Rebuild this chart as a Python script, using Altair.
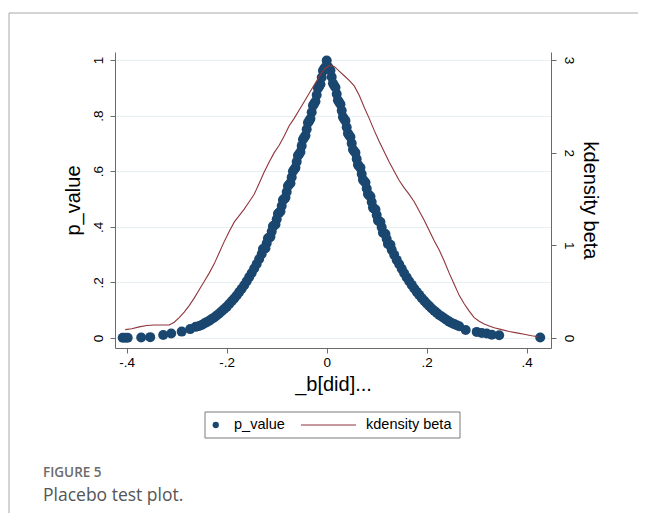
import altair as alt
import pandas as pd

# ---- data ----
beta = [
    -0.408, -0.403, -0.398, -0.371, -0.353, -0.327, -0.311, -0.290, -0.273, -0.262,
    -0.255, -0.250, -0.245, -0.240, -0.235, -0.230, -0.225, -0.220, -0.215, -0.210,
    -0.205, -0.200, -0.195, -0.190, -0.185, -0.180, -0.175, -0.170, -0.165, -0.160,
    -0.155, -0.150, -0.145, -0.140, -0.135, -0.130, -0.125, -0.120, -0.115, -0.110,
    -0.105, -0.100, -0.095, -0.090, -0.085, -0.080, -0.075, -0.070, -0.065, -0.060,
    -0.055, -0.050, -0.045, -0.040, -0.035, -0.030, -0.025, -0.020, -0.015, -0.010,
    -0.005, 0.000,
    0.005, 0.010, 0.015, 0.020, 0.025, 0.030, 0.035, 0.040, 0.045, 0.050,
    0.055, 0.060, 0.065, 0.070, 0.075, 0.080, 0.085, 0.090, 0.095, 0.100,
    0.105, 0.110, 0.115, 0.120, 0.125, 0.130, 0.135, 0.140, 0.145, 0.150,
    0.155, 0.160, 0.165, 0.170, 0.175, 0.180, 0.185, 0.190, 0.195, 0.200,
    0.205, 0.210, 0.215, 0.220, 0.225, 0.230, 0.235, 0.240, 0.245, 0.250,
    0.255, 0.260, 0.265, 0.278, 0.300, 0.310, 0.320, 0.330, 0.345, 0.427,
    # denser part of the band near the peak
    -0.0025, -0.0075, -0.0125, -0.0175, -0.0225, -0.0275, -0.0325, -0.0375, -0.0425,
    -0.0475, -0.0525, -0.0575, -0.0625, -0.0675, -0.0725, -0.0775, -0.0825, -0.0875,
    -0.0925, -0.0975, -0.1025, -0.1075, -0.1125, -0.1175, -0.1225, -0.1275,
    0.0025, 0.0075, 0.0125, 0.0175, 0.0225, 0.0275, 0.0325, 0.0375, 0.0425,
    0.0475, 0.0525, 0.0575, 0.0625, 0.0675, 0.0725, 0.0775, 0.0825, 0.0875,
    0.0925, 0.0975, 0.1025, 0.1075, 0.1125, 0.1175, 0.1225, 0.1275,
]
p_value = [
    0.001, 0.001, 0.001, 0.002, 0.003, 0.011, 0.016, 0.023, 0.032, 0.040,
    0.043, 0.047, 0.052, 0.057, 0.062, 0.068, 0.074, 0.081, 0.088, 0.096,
    0.104, 0.112, 0.122, 0.132, 0.142, 0.153, 0.165, 0.177, 0.190, 0.204,
    0.219, 0.234, 0.250, 0.266, 0.284, 0.302, 0.321, 0.341, 0.361, 0.383,
    0.405, 0.427, 0.451, 0.475, 0.500, 0.525, 0.552, 0.578, 0.606, 0.634,
    0.662, 0.691, 0.721, 0.751, 0.781, 0.812, 0.843, 0.874, 0.905, 0.937,
    0.968, 0.998,
    0.969, 0.939, 0.908, 0.878, 0.848, 0.818, 0.788, 0.758, 0.729, 0.700,
    0.672, 0.644, 0.617, 0.590, 0.564, 0.538, 0.513, 0.489, 0.465, 0.442,
    0.419, 0.398, 0.376, 0.356, 0.336, 0.317, 0.299, 0.281, 0.265, 0.249,
    0.233, 0.218, 0.204, 0.191, 0.178, 0.166, 0.155, 0.144, 0.134, 0.124,
    0.115, 0.106, 0.098, 0.091, 0.083, 0.077, 0.071, 0.065, 0.059, 0.054,
    0.050, 0.046, 0.042, 0.029, 0.022, 0.018, 0.016, 0.012, 0.010, 0.002,
    0.975, 0.961, 0.913, 0.898, 0.851, 0.836, 0.789, 0.774, 0.728,
    0.714, 0.669, 0.656, 0.612, 0.600, 0.557, 0.547, 0.505, 0.496,
    0.455, 0.447, 0.408, 0.402, 0.364, 0.359, 0.323, 0.320,
    0.976, 0.962, 0.916, 0.901, 0.855, 0.841, 0.795, 0.781, 0.736,
    0.723, 0.678, 0.666, 0.623, 0.612, 0.569, 0.559, 0.518, 0.509,
    0.469, 0.462, 0.423, 0.417, 0.379, 0.374, 0.338, 0.335,
]

kd_beta = [
    -0.403, -0.390, -0.375, -0.360, -0.345, -0.330, -0.315, -0.305, -0.295, -0.285,
    -0.275, -0.265, -0.255, -0.245, -0.235, -0.225, -0.215, -0.205, -0.195, -0.185,
    -0.175, -0.165, -0.155, -0.145, -0.135, -0.125, -0.115, -0.105, -0.095, -0.085,
    -0.075, -0.065, -0.055, -0.045, -0.035, -0.025, -0.015, -0.005, 0.005, 0.015,
    0.025, 0.035, 0.045, 0.055, 0.065, 0.075, 0.085, 0.095, 0.105, 0.115,
    0.125, 0.135, 0.145, 0.155, 0.165, 0.175, 0.185, 0.195, 0.205, 0.215,
    0.225, 0.235, 0.245, 0.255, 0.265, 0.275, 0.285, 0.295, 0.305, 0.315,
    0.325, 0.335, 0.350, 0.365, 0.380, 0.395, 0.410, 0.423,
]
kd_density = [
    0.09, 0.10, 0.12, 0.135, 0.14, 0.14, 0.14, 0.17, 0.22, 0.28,
    0.35, 0.43, 0.52, 0.61, 0.70, 0.80, 0.92, 1.04, 1.15, 1.25,
    1.32, 1.39, 1.47, 1.55, 1.67, 1.79, 1.90, 2.00, 2.08, 2.18,
    2.29, 2.37, 2.46, 2.55, 2.64, 2.73, 2.82, 2.90, 2.94, 2.93,
    2.88, 2.83, 2.78, 2.72, 2.62, 2.49, 2.37, 2.24, 2.12, 2.01,
    1.90, 1.80, 1.70, 1.62, 1.55, 1.47, 1.37, 1.27, 1.16, 1.05,
    0.95, 0.83, 0.70, 0.58, 0.46, 0.37, 0.29, 0.22, 0.18, 0.15,
    0.13, 0.11, 0.09, 0.07, 0.055, 0.04, 0.025, 0.014,
]

x_ticks = [-0.4, -0.2, 0, 0.2, 0.4]
y_ticks = [0, 0.2, 0.4, 0.6, 0.8, 1]
y2_ticks = [0, 1, 2, 3]
legend_labels = ["p_value", "kdensity beta"]
x_title = "_b[did]..."
caption_label = "FIGURE 5"
caption_text = "Placebo test plot."

# ---- styling ----
NAVY = "#1a476f"
MAROON = "#90353b"
GRID = "#e6eff1"
AXIS = "#6a6a6a"
FONT = "Liberation Sans"

pts = pd.DataFrame({"beta": beta, "p_value": p_value, "series": legend_labels[0]})
kd = pd.DataFrame({"beta": kd_beta, "density": kd_density, "series": legend_labels[1]})
deco = pd.DataFrame({"k": [0]})

xscale = alt.Scale(domain=[-0.4234, 0.4486], nice=False, zero=False)
xaxis = alt.Axis(
    values=x_ticks,
    labelExpr="datum.value == 0 ? '0' : (datum.value < 0 ? '-' : '') + replace(format(abs(datum.value), '.1f'), '0.', '.')",
    title=x_title, titleFontSize=20, titlePadding=6, labelFontSize=13.5, labelPadding=2,
    tickSize=5, grid=False,
)

points = alt.Chart(pts).mark_circle(size=100, opacity=1).encode(
    x=alt.X("beta:Q", scale=xscale, axis=xaxis),
    y=alt.Y(
        "p_value:Q",
        scale=alt.Scale(domain=[-0.036, 1.0288], nice=False, zero=False),
        axis=alt.Axis(
            orient="left", values=y_ticks,
            labelExpr="datum.value == 0 ? '0' : datum.value == 1 ? '1' : replace(format(datum.value, '.1f'), '0.', '.')",
            labelAngle=-90, labelAlign="center", labelBaseline="bottom", labelPadding=5,
            labelFontSize=13.5, tickSize=5, grid=True, gridColor=GRID, gridWidth=1,
            title="p_value", titleFontSize=20, titlePadding=8,
        ),
    ),
    color=alt.Color(
        "series:N",
        scale=alt.Scale(domain=[legend_labels[0]], range=[NAVY]),
        legend=alt.Legend(
            orient="none", legendX=93.5, legendY=365, title=None, symbolType="circle",
            symbolSize=40, clipHeight=16, labelOffset=11, labelFontSize=14.5, padding=0,
            labelFont=FONT, labelColor="#000000",
        ),
    ),
)

line = alt.Chart(kd).mark_line(strokeWidth=1.1).encode(
    x=alt.X("beta:Q", scale=xscale, axis=xaxis),
    y=alt.Y(
        "density:Q",
        scale=alt.Scale(domain=[-0.108, 3.086], nice=False, zero=False),
        axis=alt.Axis(
            orient="right", values=y2_ticks, format="d",
            labelAngle=90, labelAlign="center", labelBaseline="bottom", labelPadding=5,
            labelFontSize=13.5, tickSize=5, grid=False,
            title="kdensity beta", titleFontSize=20, titlePadding=4,
        ),
    ),
    color=alt.Color(
        "series:N",
        scale=alt.Scale(domain=[legend_labels[1]], range=[MAROON]),
        legend=alt.Legend(
            orient="none", legendX=185, legendY=365, title=None, symbolType="stroke",
            symbolSize=3025, symbolStrokeWidth=1.2, clipHeight=16, labelOffset=9,
            labelFontSize=14.5, padding=0, labelFont=FONT, labelColor="#000000",
        ),
    ),
)

frame_top = alt.Chart(deco).mark_rule(color="#a8a8a8", strokeWidth=1).encode(
    x=alt.value(-106), x2=alt.value(523), y=alt.value(-39)
)
frame_left = alt.Chart(deco).mark_rule(color="#a8a8a8", strokeWidth=1).encode(
    x=alt.value(-106), y=alt.value(-39), y2=alt.value(461)
)
legend_box = alt.Chart(deco).mark_rect(fillOpacity=0, stroke="#7a7a7a", strokeWidth=1).encode(
    x=alt.value(90), x2=alt.value(345), y=alt.value(360), y2=alt.value(386)
)
cap1 = alt.Chart(pd.DataFrame({"t": [caption_label]})).mark_text(
    align="left", baseline="alphabetic", font="Open Sans", fontSize=13.5, fontWeight=600, color="#6b6b6b"
).encode(x=alt.value(-72), y=alt.value(425), text="t:N")
cap2 = alt.Chart(pd.DataFrame({"t": [caption_text]})).mark_text(
    align="left", baseline="alphabetic", font="Open Sans", fontSize=17.5, color="#555555"
).encode(x=alt.value(-72), y=alt.value(449), text="t:N")

chart = (
    alt.layer(frame_top, frame_left, points, line, legend_box, cap1, cap2)
    .resolve_scale(y="independent", color="independent")
    .properties(
        width=436, height=296,
        autosize=alt.AutoSizeParams(type="none"),
        padding={"left": 107, "top": 44, "right": 87, "bottom": 165},
    )
    .configure_view(stroke=None)
    .configure_axis(
        labelFont=FONT, titleFont=FONT, labelColor="#000000", titleColor="#000000",
        titleFontWeight="normal", domainColor=AXIS, tickColor=AXIS, domainWidth=1, tickWidth=1,
    )
)

chart.save("out.html", embed_options={"renderer": "svg", "actions": False})
